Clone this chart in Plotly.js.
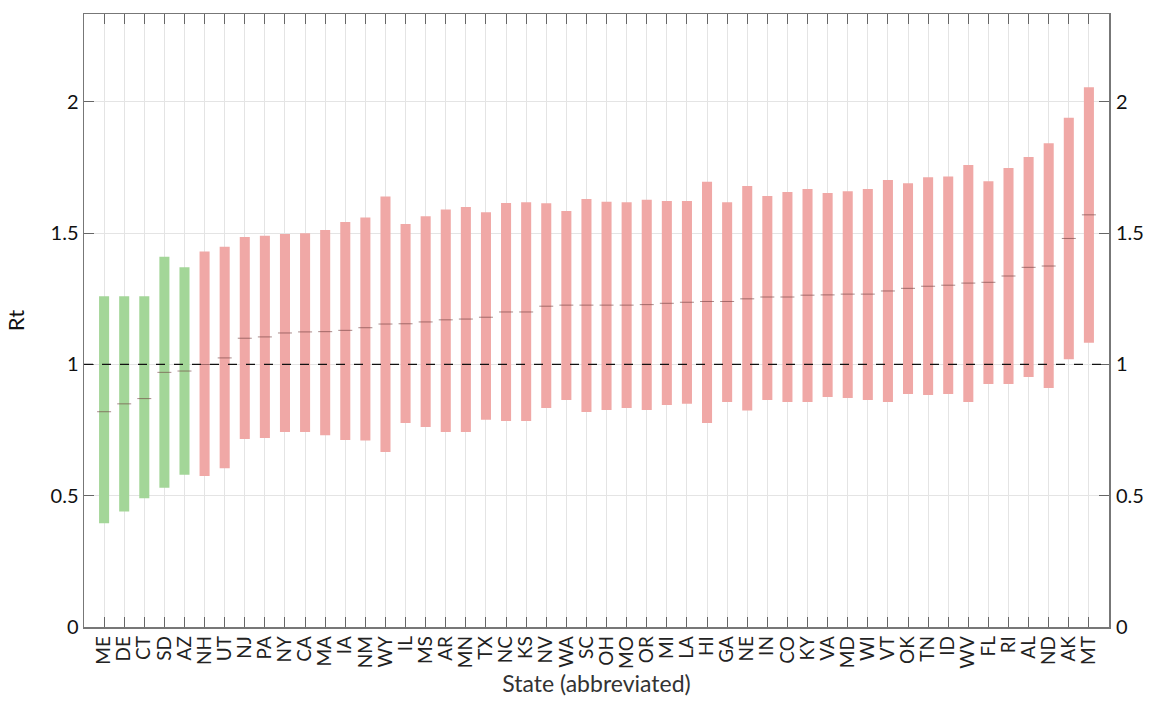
<!DOCTYPE html>
<html>
<head>
<meta charset="utf-8">
<script src="https://cdn.plot.ly/plotly-3.0.1.min.js"></script>
<style>html,body{margin:0;padding:0;background:#fff;}#chart{width:1149px;height:711px;}</style>
</head>
<body>
<div id="chart"></div>
<script>
const states = ["ME","DE","CT","SD","AZ","NH","UT","NJ","PA","NY","CA","MA","IA","NM","WY","IL","MS","AR","MN","TX","NC","KS","NV","WA","SC","OH","MO","OR","MI","LA","HI","GA","NE","IN","CO","KY","VA","MD","WI","VT","OK","TN","ID","WV","FL","RI","AL","ND","AK","MT"];
const median = [0.82,0.85,0.87,0.97,0.975,1.0,1.025,1.10,1.105,1.12,1.124,1.125,1.13,1.14,1.154,1.155,1.162,1.17,1.173,1.18,1.20,1.20,1.222,1.226,1.226,1.226,1.226,1.228,1.233,1.237,1.24,1.24,1.25,1.257,1.257,1.264,1.265,1.268,1.268,1.28,1.29,1.298,1.302,1.31,1.313,1.337,1.37,1.375,1.48,1.57];
const low = [0.395,0.44,0.49,0.53,0.58,0.575,0.605,0.716,0.72,0.743,0.743,0.73,0.712,0.71,0.667,0.777,0.762,0.743,0.743,0.789,0.785,0.785,0.834,0.865,0.819,0.827,0.834,0.827,0.846,0.85,0.777,0.857,0.825,0.865,0.857,0.857,0.876,0.872,0.865,0.857,0.888,0.884,0.888,0.857,0.926,0.926,0.952,0.91,1.02,1.083];
const high = [1.26,1.26,1.26,1.41,1.37,1.43,1.448,1.486,1.49,1.497,1.50,1.512,1.543,1.56,1.64,1.535,1.565,1.59,1.60,1.58,1.615,1.618,1.614,1.585,1.63,1.62,1.618,1.627,1.623,1.623,1.696,1.618,1.68,1.642,1.657,1.668,1.653,1.66,1.668,1.703,1.69,1.713,1.716,1.76,1.698,1.748,1.79,1.843,1.94,2.056];
const yTicks = [0, 0.5, 1, 1.5, 2];
const yTickText = ["0", "0.5", "1", "1.5", "2"];

const GREEN = "rgb(163,214,152)";
const RED = "rgb(240,168,166)";

function subset(cond) {
  const xs = [], base = [], len = [];
  states.forEach((s, i) => {
    if (cond(median[i])) { xs.push(s); base.push(low[i]); len.push(high[i] - low[i]); }
  });
  return {xs, base, len};
}
const g = subset(m => m < 1);
const r = subset(m => m >= 1);

const traces = [
  {type: "bar", x: g.xs, y: g.len, base: g.base, width: 0.5, marker: {color: GREEN, line: {width: 0}}, hoverinfo: "skip", showlegend: false},
  {type: "bar", x: r.xs, y: r.len, base: r.base, width: 0.5, marker: {color: RED, line: {width: 0}}, hoverinfo: "skip", showlegend: false},
  {type: "scatter", mode: "markers", x: states, y: median,
   marker: {symbol: "line-ew", size: 10, line: {width: 1, color: "rgba(110,60,60,0.6)"}},
   hoverinfo: "skip", showlegend: false},
  {type: "scatter", mode: "markers", x: states, y: median, yaxis: "y2",
   marker: {opacity: 0, size: 1}, hoverinfo: "skip", showlegend: false}
];

const fontFam = "Lato, 'Open Sans', sans-serif";
const yRange = [0, 2.335];
const layout = {
  width: 1149, height: 711,
  margin: {l: 84, r: 40, t: 14, b: 84},
  paper_bgcolor: "#fff", plot_bgcolor: "#fff",
  font: {family: fontFam, color: "#222"},
  barmode: "overlay",
  xaxis: {
    type: "category", range: [-1, 50], categoryorder: "array", categoryarray: states,
    tickmode: "array", tickvals: states, ticktext: states,
    showgrid: true, gridcolor: "#e4e4e4", gridwidth: 1,
    ticks: "inside", ticklen: 10, tickcolor: "#666", tickwidth: 1,
    showline: true, linecolor: "#777", linewidth: 1.5, mirror: "ticks",
    tickangle: -90, tickfont: {size: 19, color: "#222"},
    title: {text: "State (abbreviated)", font: {size: 23, color: "#333"}, standoff: 8},
    zeroline: false
  },
  yaxis: {
    range: yRange, tickvals: yTicks, ticktext: yTickText,
    showgrid: true, gridcolor: "#e4e4e4", gridwidth: 1,
    ticks: "inside", ticklen: 10, tickcolor: "#666", tickwidth: 1,
    showline: true, linecolor: "#777", linewidth: 1.5, mirror: true,
    tickfont: {size: 20, color: "#111"},
    title: {text: "Rt", font: {size: 22, color: "#111"}, standoff: 20},
    zeroline: false
  },
  yaxis2: {
    overlaying: "y", side: "right", range: yRange, tickvals: yTicks, ticktext: yTickText,
    showgrid: false, ticks: "inside", ticklen: 10, tickcolor: "#666", tickwidth: 1,
    ticklabelstandoff: 6,
    tickfont: {size: 20, color: "#111"}, zeroline: false, showline: false
  },
  shapes: [{
    type: "line", xref: "paper", x0: 0, x1: 1, yref: "y", y0: 1, y1: 1,
    line: {color: "#111", width: 1.2, dash: "dash"}, layer: "above"
  }]
};

Plotly.newPlot("chart", traces, layout, {staticPlot: true, displayModeBar: false});
</script>
</body>
</html>
